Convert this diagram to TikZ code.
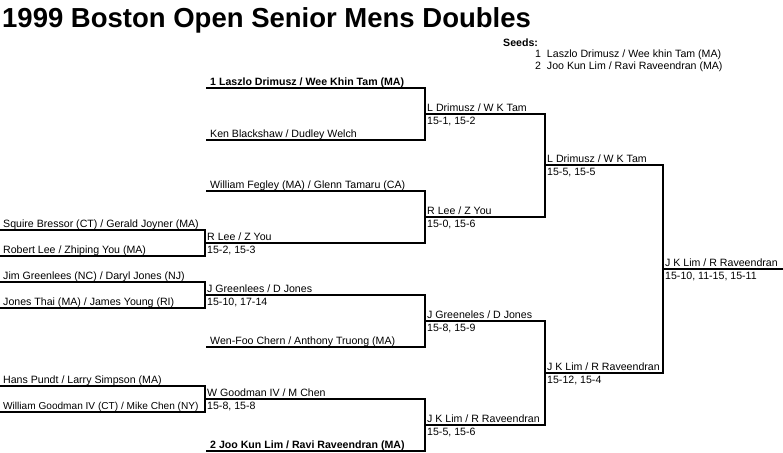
\documentclass[tikz,border=0pt]{standalone}
\usepackage{fontspec}
\setmainfont{Liberation Sans}
\tikzset{
  bline/.style={line width=1.1pt, line cap=rect},
  entry/.style={anchor=base west, inner sep=0pt, font=\fontsize{10.6}{12}\selectfont},
  seedtxt/.style={entry, font=\fontsize{10.6}{12}\selectfont\bfseries},
}
% name, x1, x2, y, text
\newcommand\slotline[5]{%
  \coordinate (#1-l) at (#2,#4);
  \coordinate (#1-r) at (#3,#4);
  \draw[bline] (#1-l) -- (#1-r);
  \node[entry] (#1-t) at ([xshift=3pt,yshift=3pt]#1-l) {#5};
}
% name, x1, x2, y, text, score
\newcommand\winline[6]{%
  \coordinate (#1-l) at (#2,#4);
  \coordinate (#1-r) at (#3,#4);
  \draw[bline] (#1-l) -- (#1-r);
  \node[entry] (#1-t) at ([xshift=2pt,yshift=3pt]#1-l) {#5};
  \node[entry] (#1-s) at ([xshift=2pt,yshift=-10pt]#1-l) {#6};
}
\begin{document}
\begin{tikzpicture}[x=1pt,y=-1pt]
\useasboundingbox (0,0) rectangle (783,452);
% title
\node[anchor=base west, inner sep=0pt, font=\fontsize{27.5}{30}\selectfont\bfseries] (title) at (2,28) {1999 Boston Open Senior Mens Doubles};
% seeds
\node[seedtxt] (seeds) at (503,46) {Seeds:};
\node[entry] (seed1) at (535,57.5) {1\ \ Laszlo Drimusz / Wee khin Tam (MA)};
\node[entry] (seed2) at (535,69.5) {2\ \ Joo Kun Lim / Ravi Raveendran (MA)};
% column 0
\slotline{a1}{0}{205}{230}{Squire Bressor (CT) / Gerald Joyner (MA)}
\slotline{a2}{0}{205}{256}{Robert Lee / Zhiping You (MA)}
\slotline{a3}{0}{205}{282}{Jim Greenlees (NC) / Daryl Jones (NJ)}
\slotline{a4}{0}{205}{308}{Jones Thai (MA) / James Young (RI)}
\slotline{a5}{0}{205}{386}{Hans Pundt / Larry Simpson (MA)}
\slotline{a6}{0}{205}{412}{\fontsize{10.1}{12}\selectfont William Goodman IV (CT) / Mike Chen (NY)}
\draw[bline] (a1-r) -- (a2-r);
\draw[bline] (a3-r) -- (a4-r);
\draw[bline] (a5-r) -- (a6-r);
% column 1
\slotline{b1}{207}{425}{88}{\bfseries 1 Laszlo Drimusz / Wee Khin Tam (MA)}
\slotline{b2}{207}{425}{140}{Ken Blackshaw / Dudley Welch}
\slotline{b3}{207}{425}{191}{William Fegley (MA) / Glenn Tamaru (CA)}
\winline{b4}{205}{425}{243}{R Lee / Z You}{15-2, 15-3}
\winline{b5}{205}{425}{295}{J Greenlees / D Jones}{15-10, 17-14}
\slotline{b6}{207}{425}{347}{Wen-Foo Chern / Anthony Truong (MA)}
\winline{b7}{205}{425}{399}{W Goodman IV / M Chen}{15-8, 15-8}
\slotline{b8}{207}{425}{451}{\bfseries 2 Joo Kun Lim / Ravi Raveendran (MA)}
\draw[bline] (b1-r) -- (b2-r);
\draw[bline] (b3-r) -- (b4-r);
\draw[bline] (b5-r) -- (b6-r);
\draw[bline] (b7-r) -- (b8-r);
% column 2
\winline{c1}{425}{545}{114}{L Drimusz / W K Tam}{15-1, 15-2}
\winline{c2}{425}{545}{217}{R Lee / Z You}{15-0, 15-6}
\winline{c3}{425}{545}{321}{J Greeneles / D Jones}{15-8, 15-9}
\winline{c4}{425}{545}{425}{J K Lim / R Raveendran}{15-5, 15-6}
\draw[bline] (c1-r) -- (c2-r);
\draw[bline] (c3-r) -- (c4-r);
% column 3
\winline{d1}{545}{663}{165}{L Drimusz / W K Tam}{15-5, 15-5}
\winline{d2}{545}{663}{373}{J K Lim / R Raveendran}{15-12, 15-4}
\draw[bline] (d1-r) -- (d2-r);
% final
\winline{e1}{663}{783}{269}{J K Lim / R Raveendran}{15-10, 11-15, 15-11}
\end{tikzpicture}
\end{document}
